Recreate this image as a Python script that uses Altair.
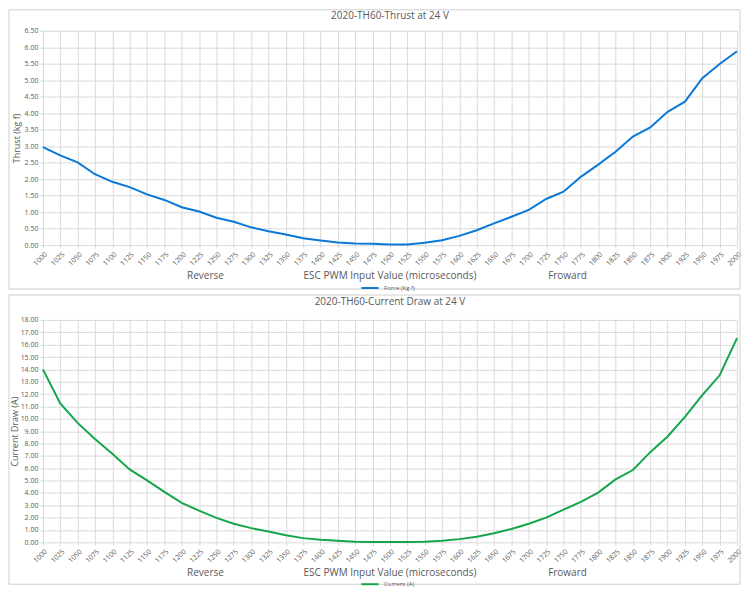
import altair as alt
import pandas as pd

pwm = ["1000", "1025", "1050", "1075", "1100", "1125", "1150", "1175", "1200", "1225",
       "1250", "1275", "1300", "1325", "1350", "1375", "1400", "1425", "1450", "1475",
       "1500", "1525", "1550", "1575", "1600", "1625", "1650", "1675", "1700", "1725",
       "1750", "1775", "1800", "1825", "1850", "1875", "1900", "1925", "1950", "1975", "2000"]

thrust = [2.97, 2.72, 2.51, 2.15, 1.92, 1.76, 1.54, 1.37, 1.15, 1.02,
          0.83, 0.71, 0.54, 0.42, 0.32, 0.21, 0.14, 0.08, 0.05, 0.04,
          0.02, 0.02, 0.07, 0.15, 0.28, 0.45, 0.66, 0.86, 1.07, 1.40,
          1.62, 2.07, 2.44, 2.83, 3.29, 3.57, 4.04, 4.35, 5.06, 5.49, 5.88]

current = [14.0, 11.25, 9.67, 8.36, 7.17, 5.90, 5.01, 4.09, 3.19, 2.56,
           1.98, 1.50, 1.15, 0.87, 0.58, 0.34, 0.21, 0.13, 0.05, 0.03,
           0.02, 0.02, 0.05, 0.13, 0.26, 0.45, 0.74, 1.08, 1.50, 2.00,
           2.64, 3.27, 4.03, 5.09, 5.85, 7.30, 8.57, 10.15, 11.91, 13.52, 16.53]

section_labels = ["Reverse", "ESC PWM Input Value (microseconds)", "Froward"]

FONT = "Open Sans"
GRAY = "#595959"
GRID = "#d9d9d9"
FRAME = "#cfcfcf"
W = 696


def panel(values, series_name, color, title, ytitle, ymax, ystep, H, ftop, fbot, toff,
          tpad, legy):
    df = pd.DataFrame({"pwm": pwm, "v": values, "s": series_name})
    nsteps = int(round(ymax / ystep))
    yvals = [round(i * ystep, 2) for i in range(nsteps + 1)]
    one = alt.Data(values=[{"f": 1}])

    left, right, top, bot = -34, W + 3, -ftop, H + fbot
    edges = [
        dict(x=alt.value(left), x2=alt.value(right), y=alt.value(top)),
        dict(x=alt.value(left), x2=alt.value(right), y=alt.value(bot)),
        dict(x=alt.value(left), y=alt.value(top), y2=alt.value(bot)),
        dict(x=alt.value(right), y=alt.value(top), y2=alt.value(bot)),
    ]
    frame = [alt.Chart(one).mark_rule(color=FRAME, strokeWidth=1).encode(**e) for e in edges]

    line = alt.Chart(df).mark_line(strokeWidth=2).encode(
        x=alt.X("pwm:O", sort=pwm, scale=alt.Scale(type="point", padding=0),
                axis=alt.Axis(title=None, labelAngle=-45, labelFontSize=7, labelColor=GRAY,
                              labelFont=FONT, grid=True, gridColor=GRID, domain=False,
                              tickColor=GRID, tickSize=3, labelPadding=2)),
        y=alt.Y("v:Q", scale=alt.Scale(domain=[0, ymax], nice=False),
                axis=alt.Axis(title=ytitle, values=yvals, format=".2f", labelFontSize=7,
                              labelColor=GRAY, labelFont=FONT, gridColor=GRID, domain=False,
                              tickColor=GRID, tickSize=3, labelPadding=2,
                              titleFont=FONT, titleFontSize=9, titleFontWeight="normal",
                              titleColor=GRAY, titlePadding=tpad)),
        color=alt.Color("s:N", scale=alt.Scale(domain=[series_name], range=[color]),
                        legend=alt.Legend(orient="none", legendX=318, legendY=H + legy,
                                          title=None, symbolType="stroke", symbolStrokeWidth=2,
                                          symbolSize=300, labelFontSize=6, labelColor=GRAY,
                                          labelFont=FONT, padding=0)),
    )

    xs = [163, W / 2, 526]
    texts = []
    for lab, px in zip(section_labels, xs):
        texts.append(
            alt.Chart(one).mark_text(
                fontSize=10, font=FONT, color=GRAY, baseline="middle", align="center"
            ).encode(x=alt.value(px), y=alt.value(H + 31), text=alt.value(lab))
        )

    return alt.layer(*frame, line, *texts).properties(
        width=W, height=H,
        title=alt.TitleParams(title, fontSize=10, font=FONT, color=GRAY,
                              fontWeight="normal", anchor="middle", offset=toff,
                              frame="group"),
    )


top = panel(thrust, "Force (Kg f)", "#0a78d7", "2020-TH60-Thrust at 24 V",
            "Thrust  (kg f)", 6.5, 0.5, 215, 21, 44, -12, 3, 33)
bottom = panel(current, "Current (A)", "#14a64a", "2020-TH60-Current Draw at 24 V",
               "Current Draw  (A)", 18, 1, 223, 25, 42, -13, 1, 32)

chart = (
    alt.vconcat(top, bottom, spacing=2)
    .resolve_scale(color="independent")
    .resolve_legend(color="independent")
    .properties(padding=0)
    .configure_view(stroke=None)
)

chart.save("out.html", embed_options={"renderer": "svg", "actions": False})
